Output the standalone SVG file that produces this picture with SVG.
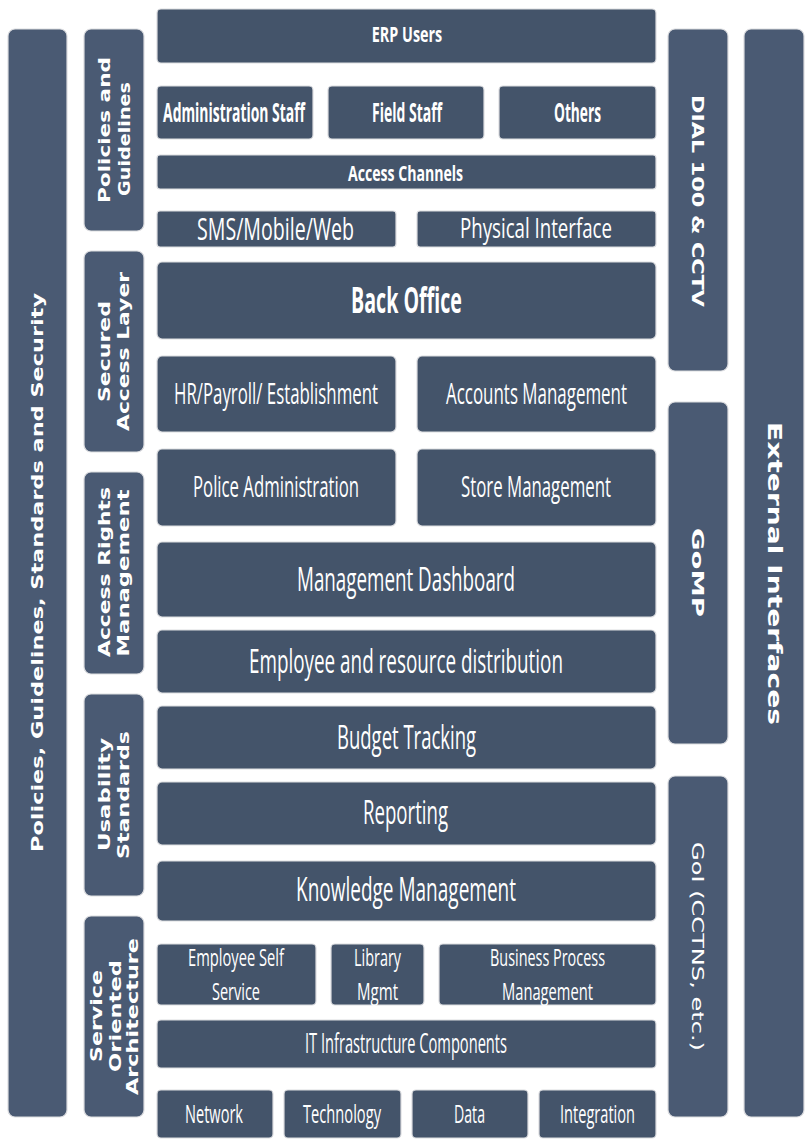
<svg xmlns="http://www.w3.org/2000/svg" width="807" height="1147" viewBox="0 0 807 1147">
<style>
.bg{fill:#ffffff}
.box{fill:#44546a;stroke:#dcdde0;stroke-width:1.2}
.bar{fill:#4a5a73;stroke:#dcdde0;stroke-width:1.2}
.t{font-family:"Open Sans","Liberation Sans",sans-serif;fill:#ffffff;text-anchor:middle}
.b{font-weight:bold}
.s{font-family:"DejaVu Sans","Liberation Sans",sans-serif;font-weight:bold;fill:#ffffff;text-anchor:middle}
.r{font-family:"DejaVu Sans","Liberation Sans",sans-serif;fill:#ffffff;text-anchor:middle}
</style>
<rect class="bg" x="0" y="0" width="807" height="1147"/>

<g id="bar-policies-security">
<rect class="bar" x="8" y="29" width="59" height="1088" rx="7"/>
<text class="s" font-size="16" textLength="559" lengthAdjust="spacingAndGlyphs" transform="translate(43.3,572.5) rotate(-90)">Policies, Guidelines, Standards and Security</text>
</g>

<g id="bar-policies-guidelines">
<rect class="bar" x="84" y="29" width="60" height="202" rx="7"/>
<text class="s" font-size="15.5" textLength="146" lengthAdjust="spacingAndGlyphs" transform="translate(110,130) rotate(-90)">Policies and</text>
<text class="s" font-size="15.5" textLength="114" lengthAdjust="spacingAndGlyphs" transform="translate(129.5,139) rotate(-90)">Guidelines</text>
</g>

<g id="bar-secured-access">
<rect class="bar" x="84" y="251" width="60" height="201" rx="7"/>
<text class="s" font-size="15.5" textLength="101" lengthAdjust="spacingAndGlyphs" transform="translate(110,351.5) rotate(-90)">Secured</text>
<text class="s" font-size="15.5" textLength="159" lengthAdjust="spacingAndGlyphs" transform="translate(128.5,351.5) rotate(-90)">Access Layer</text>
</g>

<g id="bar-access-rights">
<rect class="bar" x="84" y="472" width="60" height="202" rx="7"/>
<text class="s" font-size="15.5" textLength="170" lengthAdjust="spacingAndGlyphs" transform="translate(110,572) rotate(-90)">Access Rights</text>
<text class="s" font-size="15.5" textLength="167" lengthAdjust="spacingAndGlyphs" transform="translate(128.5,573) rotate(-90)">Management</text>
</g>

<g id="bar-usability">
<rect class="bar" x="84" y="694" width="60" height="202" rx="7"/>
<text class="s" font-size="15.5" textLength="113" lengthAdjust="spacingAndGlyphs" transform="translate(110,794.5) rotate(-90)">Usability</text>
<text class="s" font-size="15.5" textLength="128" lengthAdjust="spacingAndGlyphs" transform="translate(128.5,795) rotate(-90)">Standards</text>
</g>

<g id="bar-soa">
<rect class="bar" x="84" y="916" width="60" height="201" rx="7"/>
<text class="s" font-size="15.5" textLength="92" lengthAdjust="spacingAndGlyphs" transform="translate(101.7,1016) rotate(-90)">Service</text>
<text class="s" font-size="15.5" textLength="112" lengthAdjust="spacingAndGlyphs" transform="translate(120.5,1016) rotate(-90)">Oriented</text>
<text class="s" font-size="15.5" textLength="157" lengthAdjust="spacingAndGlyphs" transform="translate(138.3,1016.5) rotate(-90)">Architecture</text>
</g>

<g id="bar-dial100">
<rect class="bar" x="668" y="29" width="60" height="342" rx="7"/>
<text class="s" font-size="16" textLength="212" lengthAdjust="spacingAndGlyphs" transform="translate(691.7,201) rotate(90)">DIAL 100 &amp; CCTV</text>
</g>

<g id="bar-gomp">
<rect class="bar" x="668" y="402" width="60" height="342" rx="7"/>
<text class="s" font-size="16" textLength="89" lengthAdjust="spacingAndGlyphs" transform="translate(691.5,572.5) rotate(90)">GoMP</text>
</g>

<g id="bar-goi">
<rect class="bar" x="668" y="776" width="60" height="341" rx="7"/>
<text class="r" font-size="16" textLength="209" lengthAdjust="spacingAndGlyphs" transform="translate(691.5,946.5) rotate(90)">GoI (CCTNS, etc.)</text>
</g>

<g id="bar-external">
<rect class="bar" x="744" y="29" width="60" height="1088" rx="7"/>
<text class="s" font-size="20" textLength="303" lengthAdjust="spacingAndGlyphs" transform="translate(768,573.5) rotate(90)">External Interfaces</text>
</g>

<g id="erp-users">
<rect class="box" x="157" y="9" width="499" height="54" rx="4"/>
<text class="t b" font-size="22" textLength="150" lengthAdjust="spacingAndGlyphs" transform="translate(407,42) scale(0.47,1)">ERP Users</text>
</g>
<g id="admin-staff">
<rect class="box" x="157" y="86" width="156" height="53" rx="4"/>
<text class="t b" font-size="27" textLength="302" lengthAdjust="spacingAndGlyphs" transform="translate(234,122) scale(0.47,1)">Administration Staff</text>
</g>
<g id="field-staff">
<rect class="box" x="328" y="86" width="156" height="53" rx="4"/>
<text class="t b" font-size="27" textLength="149" lengthAdjust="spacingAndGlyphs" transform="translate(407,122) scale(0.47,1)">Field Staff</text>
</g>
<g id="others">
<rect class="box" x="499" y="86" width="157" height="53" rx="4"/>
<text class="t b" font-size="27" textLength="100" lengthAdjust="spacingAndGlyphs" transform="translate(577.5,122) scale(0.47,1)">Others</text>
</g>
<g id="access-channels">
<rect class="box" x="157" y="155" width="499" height="34" rx="3"/>
<text class="t b" font-size="22" textLength="245" lengthAdjust="spacingAndGlyphs" transform="translate(405.5,181) scale(0.47,1)">Access Channels</text>
</g>
<g id="sms-mobile-web">
<rect class="box" x="157" y="211" width="239" height="36" rx="3"/>
<text class="t" font-size="31" textLength="314" lengthAdjust="spacingAndGlyphs" transform="translate(275.5,240) scale(0.5,1)">SMS/Mobile/Web</text>
</g>
<g id="physical-interface">
<rect class="box" x="417" y="211" width="239" height="36" rx="3"/>
<text class="t" font-size="28" textLength="304" lengthAdjust="spacingAndGlyphs" transform="translate(536,238) scale(0.5,1)">Physical Interface</text>
</g>
<g id="back-office">
<rect class="box" x="157" y="262" width="499" height="77" rx="5"/>
<text class="t b" font-size="36" textLength="236" lengthAdjust="spacingAndGlyphs" transform="translate(406.5,313) scale(0.47,1)">Back Office</text>
</g>
<g id="hr-payroll">
<rect class="box" x="157" y="356" width="239" height="76" rx="5"/>
<text class="t" font-size="29" textLength="408" lengthAdjust="spacingAndGlyphs" transform="translate(276,404) scale(0.5,1)">HR/Payroll/ Establishment</text>
</g>
<g id="accounts-management">
<rect class="box" x="417" y="356" width="239" height="76" rx="5"/>
<text class="t" font-size="29" textLength="362" lengthAdjust="spacingAndGlyphs" transform="translate(536.5,404) scale(0.5,1)">Accounts Management</text>
</g>
<g id="police-administration">
<rect class="box" x="157" y="449" width="239" height="77" rx="5"/>
<text class="t" font-size="29" textLength="332" lengthAdjust="spacingAndGlyphs" transform="translate(276,497) scale(0.5,1)">Police Administration</text>
</g>
<g id="store-management">
<rect class="box" x="417" y="449" width="239" height="77" rx="5"/>
<text class="t" font-size="29" textLength="300" lengthAdjust="spacingAndGlyphs" transform="translate(536,497) scale(0.5,1)">Store Management</text>
</g>
<g id="management-dashboard">
<rect class="box" x="157" y="542" width="499" height="75" rx="5"/>
<text class="t" font-size="33" textLength="436" lengthAdjust="spacingAndGlyphs" transform="translate(406,591) scale(0.5,1)">Management Dashboard</text>
</g>
<g id="employee-resource">
<rect class="box" x="157" y="630" width="499" height="63" rx="5"/>
<text class="t" font-size="32" textLength="628" lengthAdjust="spacingAndGlyphs" transform="translate(406,672.5) scale(0.5,1)">Employee and resource distribution</text>
</g>
<g id="budget-tracking">
<rect class="box" x="157" y="706" width="499" height="63" rx="5"/>
<text class="t" font-size="32" textLength="278" lengthAdjust="spacingAndGlyphs" transform="translate(406.5,748.5) scale(0.5,1)">Budget Tracking</text>
</g>
<g id="reporting">
<rect class="box" x="157" y="782" width="499" height="63" rx="5"/>
<text class="t" font-size="33" textLength="170" lengthAdjust="spacingAndGlyphs" transform="translate(405.5,824) scale(0.5,1)">Reporting</text>
</g>
<g id="knowledge-management">
<rect class="box" x="157" y="861" width="499" height="60" rx="5"/>
<text class="t" font-size="33" textLength="440" lengthAdjust="spacingAndGlyphs" transform="translate(406,901) scale(0.5,1)">Knowledge Management</text>
</g>
<g id="employee-self-service">
<rect class="box" x="157" y="944" width="159" height="61" rx="4"/>
<text class="t" font-size="24" textLength="192" lengthAdjust="spacingAndGlyphs" transform="translate(236,966) scale(0.5,1)">Employee Self</text>
<text class="t" font-size="24" textLength="96" lengthAdjust="spacingAndGlyphs" transform="translate(236,1000) scale(0.5,1)">Service</text>
</g>
<g id="library-mgmt">
<rect class="box" x="331" y="944" width="93" height="61" rx="4"/>
<text class="t" font-size="24" textLength="94" lengthAdjust="spacingAndGlyphs" transform="translate(377.5,966) scale(0.5,1)">Library</text>
<text class="t" font-size="24" textLength="82" lengthAdjust="spacingAndGlyphs" transform="translate(377.5,1000) scale(0.5,1)">Mgmt</text>
</g>
<g id="business-process-management">
<rect class="box" x="439" y="944" width="217" height="61" rx="4"/>
<text class="t" font-size="24" textLength="230" lengthAdjust="spacingAndGlyphs" transform="translate(547.5,966) scale(0.5,1)">Business Process</text>
<text class="t" font-size="24" textLength="182" lengthAdjust="spacingAndGlyphs" transform="translate(547.5,1000) scale(0.5,1)">Management</text>
</g>
<g id="it-infrastructure">
<rect class="box" x="157" y="1020" width="499" height="48" rx="4"/>
<text class="t" font-size="27" textLength="404" lengthAdjust="spacingAndGlyphs" transform="translate(406,1053) scale(0.5,1)">IT Infrastructure Components</text>
</g>
<g id="network">
<rect class="box" x="157" y="1090" width="116" height="48" rx="4"/>
<text class="t" font-size="26" textLength="116" lengthAdjust="spacingAndGlyphs" transform="translate(214,1122.5) scale(0.5,1)">Network</text>
</g>
<g id="technology">
<rect class="box" x="284" y="1090" width="117" height="48" rx="4"/>
<text class="t" font-size="26" textLength="156" lengthAdjust="spacingAndGlyphs" transform="translate(342,1122.5) scale(0.5,1)">Technology</text>
</g>
<g id="data">
<rect class="box" x="412" y="1090" width="116" height="48" rx="4"/>
<text class="t" font-size="26" textLength="62" lengthAdjust="spacingAndGlyphs" transform="translate(469.5,1122.5) scale(0.5,1)">Data</text>
</g>
<g id="integration">
<rect class="box" x="539" y="1090" width="117" height="48" rx="4"/>
<text class="t" font-size="26" textLength="150" lengthAdjust="spacingAndGlyphs" transform="translate(597.5,1122.5) scale(0.5,1)">Integration</text>
</g>

<g id="connectors"></g>
</svg>
